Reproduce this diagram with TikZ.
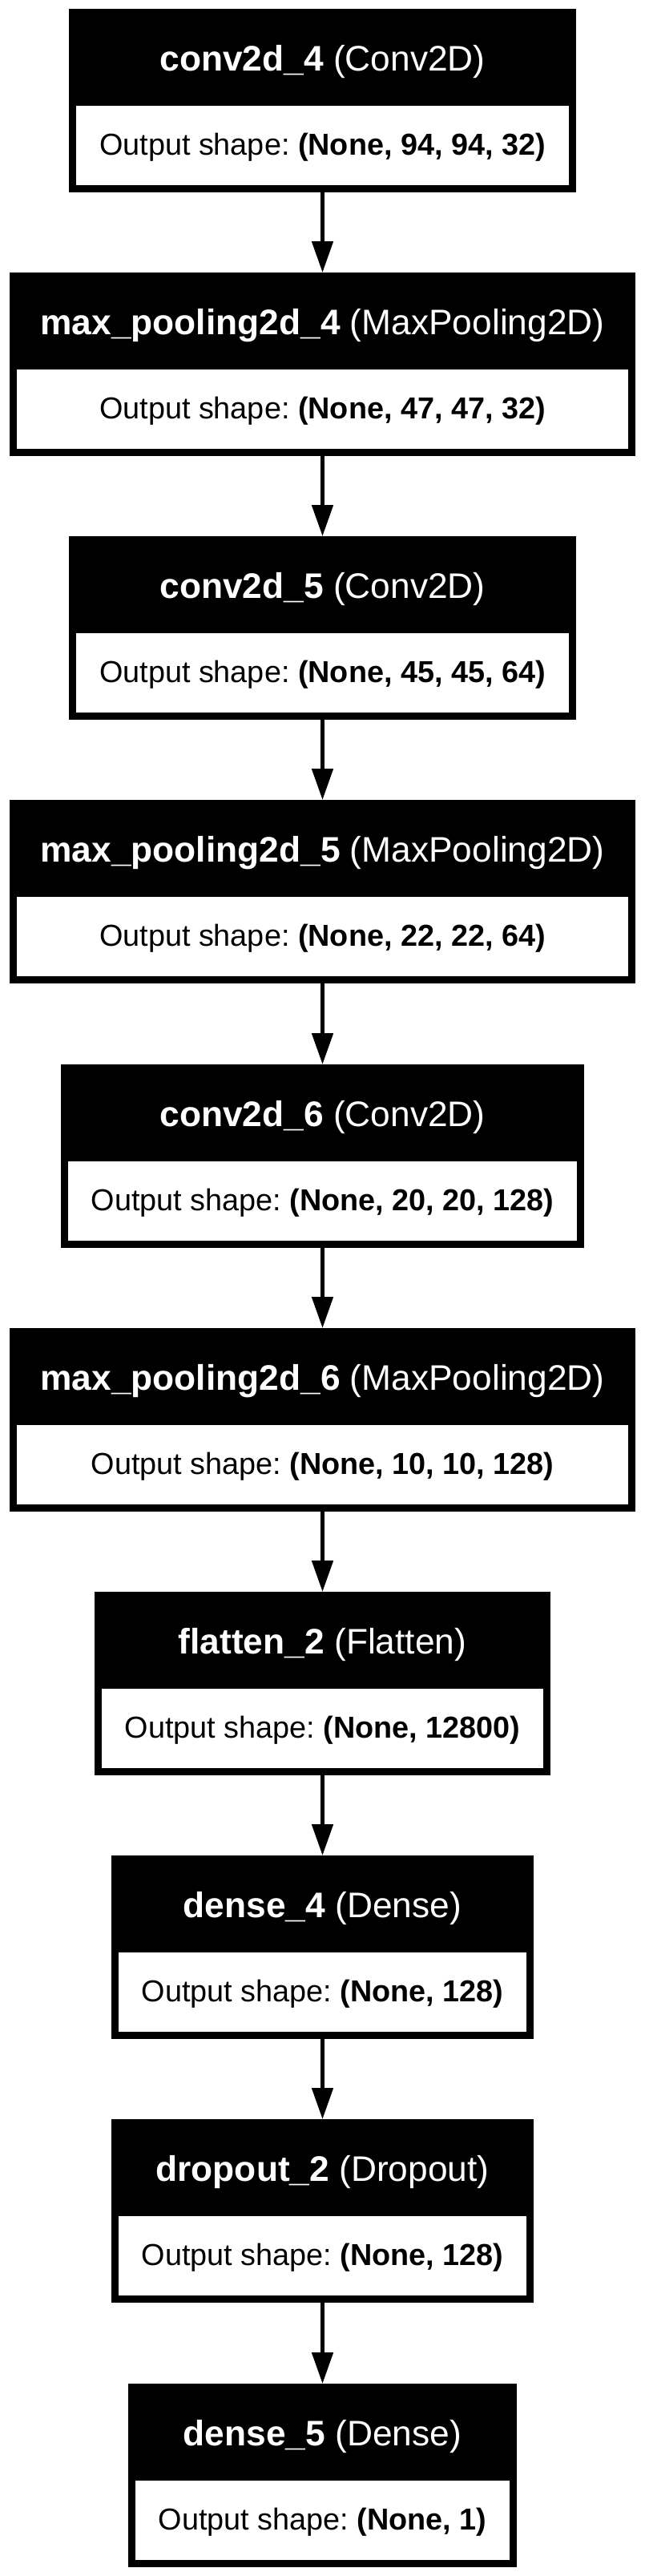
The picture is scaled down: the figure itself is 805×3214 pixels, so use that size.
\documentclass[tikz,border=0pt]{standalone}
\usepackage{fontspec}
\setmainfont{Liberation Sans}
\usetikzlibrary{arrows.meta}
\frenchspacing

\newcommand\headfont{\fontsize{44.3}{53}\selectfont}
\newcommand\shapefont{\fontsize{37.8}{45}\selectfont}
\newlength\layw
\newlength\shpw

% one layer: node name, top y, layer name, class, output shape
\newcommand\layer[5]{%
  \pgfinterruptpicture
    \settowidth\layw{\headfont\textbf{#3} (#4)}%
    \settowidth\shpw{\shapefont Output shape: \textbf{#5}}%
    \ifdim\shpw>\layw \global\layw=\shpw \else \global\layw=\layw \fi
  \endpgfinterruptpicture
  \global\advance\layw by 76pt
  \node[layer box, minimum width=\layw] (#1) at (402.5,#2) {};
  \node[layer head, minimum width=\layw] (#1-head) at (#1.north) {\textbf{#3} (#4)};
  \node[layer shape, minimum width=\layw-18pt] (#1-shape) at ([yshift=9pt]#1.south) {Output shape: \textbf{#5}};
}

\begin{document}
\begin{tikzpicture}[x=1pt,y=-1pt,
  layer box/.style={rectangle,fill=black,anchor=north,inner sep=0pt,minimum height=229pt},
  layer head/.style={rectangle,anchor=north,inner sep=0pt,minimum height=121pt,text=white,font=\headfont,text height=33pt,text depth=0pt},
  layer shape/.style={rectangle,fill=white,anchor=south,inner sep=0pt,minimum height=99pt,font=\shapefont,text height=27pt,text depth=4pt},
  flow/.style={line width=5pt,-{Triangle[length=39pt,width=26pt]}}]

\fill[white] (0,0) rectangle (805,3214);
\useasboundingbox (0,0) rectangle (805,3214);

\layer{conv4}{11}{conv2d\_4}{Conv2D}{(None, 94, 94, 32)}
\layer{pool4}{340}{max\_pooling2d\_4}{MaxPooling2D}{(None, 47, 47, 32)}
\layer{conv5}{669}{conv2d\_5}{Conv2D}{(None, 45, 45, 64)}
\layer{pool5}{998}{max\_pooling2d\_5}{MaxPooling2D}{(None, 22, 22, 64)}
\layer{conv6}{1328}{conv2d\_6}{Conv2D}{(None, 20, 20, 128)}
\layer{pool6}{1657}{max\_pooling2d\_6}{MaxPooling2D}{(None, 10, 10, 128)}
\layer{flat2}{1986}{flatten\_2}{Flatten}{(None, 12800)}
\layer{dense4}{2315}{dense\_4}{Dense}{(None, 128)}
\layer{drop2}{2644}{dropout\_2}{Dropout}{(None, 128)}
\layer{dense5}{2974}{dense\_5}{Dense}{(None, 1)}

\foreach \a/\b in {conv4/pool4,pool4/conv5,conv5/pool5,pool5/conv6,conv6/pool6,pool6/flat2,flat2/dense4,dense4/drop2,drop2/dense5}
  \draw[flow] (\a.south) -- (\b.north);
\end{tikzpicture}
\end{document}
